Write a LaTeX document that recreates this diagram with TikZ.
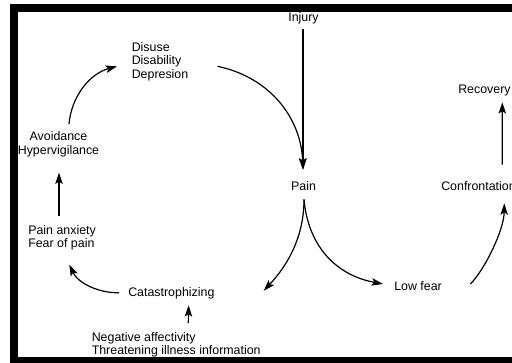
\documentclass[tikz,border=0pt]{standalone}
\usepackage{fontspec}
\setmainfont{Liberation Sans}
\usetikzlibrary{arrows.meta}
\begin{document}
\begin{tikzpicture}[x=0.75pt,y=-0.75pt,
  lbl/.style={inner sep=0pt, font=\fontsize{9.3}{10.3}\selectfont},
  arr/.style={line width=0.9pt, -{Stealth[length=8.5pt,width=5.6pt,inset=1.8pt]}}]
\useasboundingbox (0,0) rectangle (512,362);
\clip (0,0) rectangle (512,362);
\fill[white] (0,0) rectangle (512,362);
\draw[line width=6pt] (14,8) rectangle (540,361);

% nodes
\node[lbl, anchor=base] (injury) at (303.5,21.7) {Injury};
\node[lbl, anchor=north west, align=left] (disuse) at (131.5,41.8) {Disuse\\Disability\\Depresion};
\node[lbl, anchor=north, align=center] (avoid) at (58.5,131.6) {Avoidance\\Hypervigilance};
\node[lbl, anchor=north west, align=left] (anx) at (28,224.8) {Pain anxiety\\Fear of pain};
\node[lbl, anchor=base west] (cat) at (128,296) {Catastrophizing};
\node[lbl, anchor=north west, align=left] (neg) at (91.5,331.8) {Negative affectivity\\Threatening illness information};
\node[lbl, anchor=base] (pain) at (303.5,190) {Pain};
\node[lbl, anchor=base west] (low) at (394,290) {Low fear};
\node[lbl, anchor=base west] (conf) at (441,190) {Confrontation};
\node[lbl, anchor=base west] (rec) at (458,93.3) {Recovery};

% connectors
\draw[arr] ([shift={(-0.5,4.7)}]injury.south) -- ([shift={(-0.5,-11.1)}]pain.north);
\draw[arr] ([shift={(29,4.75)}]disuse.east) .. controls (269,77) and (301,117) .. ([shift={(-0.5,-11.1)}]pain.north);
\draw[arr] ([shift={(10.5,-7.6)}]avoid.north) .. controls (71.5,96) and (90,73.5) .. ([shift={(-14.5,4.75)}]disuse.west);
\draw[arr] ([shift={(0.5,-8.8)}]anx.north -| avoid.south) -- ([shift={(0.5,15.2)}]avoid.south);
\draw[arr] ([shift={(-9,0)}]cat.west) .. controls (98,293) and (78,283) .. ([shift={(7.25,14)}]anx.south);
\draw[arr] ([shift={(96.8,-8.8)}]neg.north west) -- ([shift={(17.3,6.4)}]cat.south);
\draw[arr] ([shift={(0.5,9)}]pain.south) .. controls (304,240) and (285,268) .. ([shift={(49,-2)}]cat.east);
\draw[arr] ([shift={(0.5,9)}]pain.south) .. controls (308,245) and (335,275) .. ([shift={(-11,-1.6)}]low.west);
\draw[arr] ([shift={(28.4,-1.6)}]low.east) .. controls (485,269) and (504,230) .. ([shift={(25.8,13)}]conf.south);
\draw[arr] ([shift={(23.8,-16.1)}]conf.north) -- ([shift={(17.8,6.1)}]rec.south);
\end{tikzpicture}
\end{document}
